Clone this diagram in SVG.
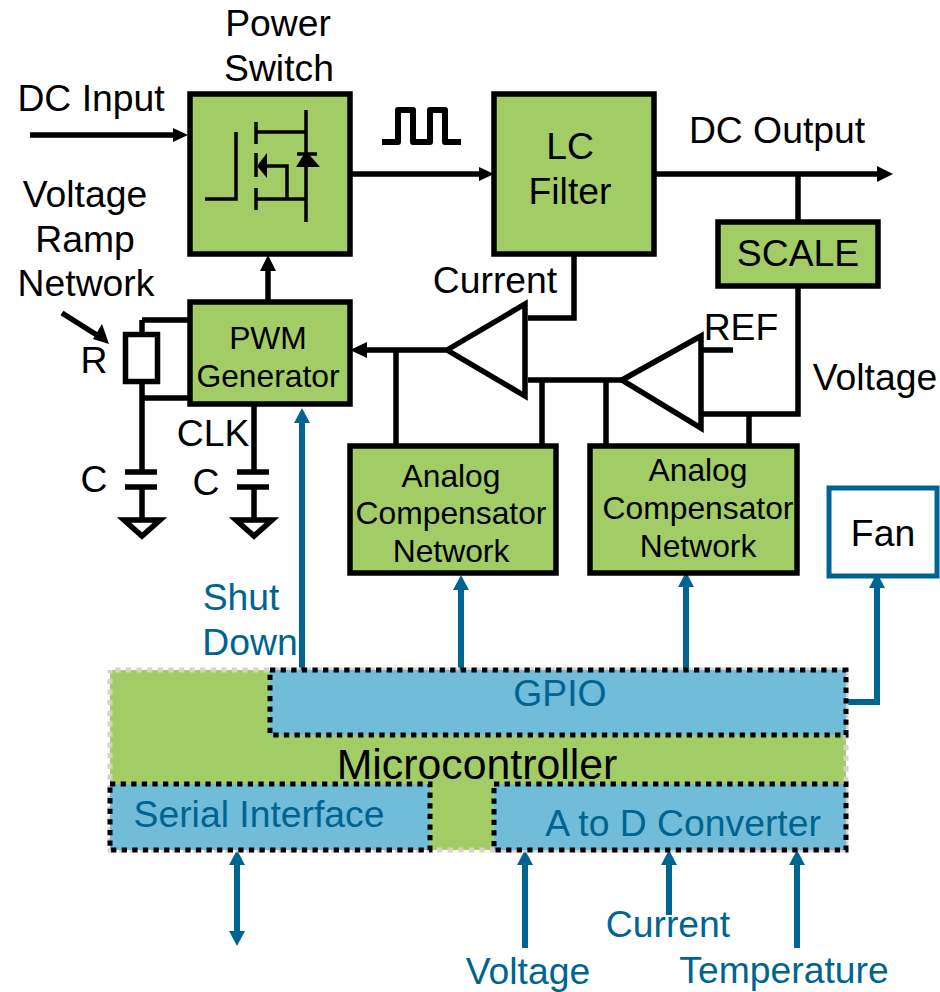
<svg xmlns="http://www.w3.org/2000/svg" width="940" height="992" viewBox="0 0 940 992">
<style>
text{font-family:"Liberation Sans",Arial,sans-serif;font-size:37.3px;fill:#000;text-anchor:middle}
text.s{font-size:31.8px}
text.l{fill:#006491}
.b{fill:#a2cc66;stroke:#000;stroke-width:5.5}
.k{fill:none;stroke:#000;stroke-width:5.5}
.t{fill:none;stroke:#000;stroke-width:3.5}
.u{fill:none;stroke:#006491;stroke-width:6}
.f{fill:#000;stroke:none}
.ua{fill:#006491;stroke:none}
.blue{fill:#71bcd8;stroke:#000;stroke-width:5;stroke-dasharray:5.3 5.3}
</style>
<rect width="940" height="992" fill="#fff"/>
<g id="connectors">
<path class="k" d="M30 135H176M352 174H482M655 174H880M798 174V222M798 288V414H702M749 414V446M268 300V266M142 320H190M142 320V340M142 382V472M142 398H190M142 487V518M254 406V472M254 487V518M396 350H366M446 350H396M396 350V446M574 256V318H528M528 380H622M542 380V446M606 380V446M702 350H733"/>
<path class="k" d="M62 313L100 337"/>
<path class="f" d="M893 174L877 166V182ZM188 135L173 128V142ZM494 174L479 167V181ZM268 255L260 271H276ZM350 350L367 342V358ZM109 344L93 339L102 324Z"/>
<path class="u" d="M302 670V420M461 670V590M686 670V585M847 702H877V585M237 856V935M525 856V948M669 856V915M797 856V948"/>
<path class="ua" d="M302 408L294 423H310ZM461 575L453 590H469ZM686 572L678 587H694ZM877 573L869 588H885ZM237 850L229 865H245ZM237 946L229 931H245ZM525 850L517 865H533ZM669 850L661 865H677ZM797 850L789 865H805Z"/>
<path d="M382 142H398V110H413V142H430V110H445V142H461" fill="none" stroke="#000" stroke-width="6" stroke-linejoin="round"/>
</g>
<g id="power-switch">
<rect class="b" x="190" y="94" width="160" height="160"/>
<path class="t" d="M205 199H236V132M256 122V144M256 153V177M256 188V210M256 132H306M306 110V222M256 199H306M287 199V166H262"/>
<path class="f" d="M257 166L267 153V178ZM296 167L306 151L320 167Z"/>
<path class="t" d="M297 154H317"/>
</g>
<g id="lc-filter"><rect class="b" x="494" y="94" width="160" height="160"/><text x="570" y="159">LC</text><text x="570" y="204">Filter</text></g>
<g id="scale"><rect class="b" x="718" y="222" width="160" height="64"/><text x="798" y="266">SCALE</text></g>
<g id="pwm"><rect class="b" x="190" y="302" width="160" height="102"/><text class="s" x="268" y="349">PWM</text><text class="s" x="268" y="387">Generator</text></g>
<g id="resistor"><rect x="125.500" y="334.500" width="32" height="47" fill="#fff" stroke="#000" stroke-width="5.500"/></g>
<g id="caps">
<path class="k" d="M125 472H157M125 487H157M237 472H269M237 487H269"/>
<path class="k" d="M124 520H160L142 536ZM236 520H272L254 536Z" fill="#fff"/>
</g>
<g id="amp1"><path class="k" d="M447 350L525 304V396Z" fill="#fff"/></g>
<g id="amp2"><path class="k" d="M622 380L701 336V428Z" fill="#fff"/></g>
<g id="comp1"><rect class="b" x="350" y="446" width="206" height="127"/><text class="s" x="451" y="487">Analog</text><text class="s" x="451" y="524">Compensator</text><text class="s" x="451" y="562">Network</text></g>
<g id="comp2"><rect class="b" x="590" y="446" width="207" height="127"/><text class="s" x="698" y="481">Analog</text><text class="s" x="698" y="519">Compensator</text><text class="s" x="698" y="557">Network</text></g>
<g id="fan"><rect x="829" y="488" width="108" height="88" fill="#fff" stroke="#006491" stroke-width="5"/><text x="883" y="546">Fan</text></g>
<g id="microcontroller">
<rect x="110" y="670" width="736" height="180" fill="#a2cc66" stroke="#d9d3c7" stroke-width="5" stroke-dasharray="5.300 5.300" stroke-dashoffset="5.300"/>
<text x="477" y="779" style="font-size:42.8px">Microcontroller</text>
</g>
<g id="gpio"><rect class="blue" x="270" y="670" width="576" height="65"/><text class="l" x="560" y="706">GPIO</text></g>
<g id="serial"><rect class="blue" x="110" y="784" width="320" height="66"/><text class="l" x="259" y="827">Serial Interface</text></g>
<g id="adc"><rect class="blue" x="494" y="784" width="352" height="66"/><text class="l" x="683" y="836">A to D Converter</text></g>
<g id="labels">
<text x="278" y="36">Power</text><text x="279" y="81">Switch</text>
<text x="91" y="111">DC Input</text>
<text x="85" y="207">Voltage</text><text x="85" y="252">Ramp</text><text x="86" y="296">Network</text>
<text x="94" y="373">R</text>
<text x="94" y="492">C</text><text x="206" y="495">C</text>
<text x="213" y="446">CLK</text>
<text x="495" y="293">Current</text>
<text x="777" y="143">DC Output</text>
<text x="741" y="340">REF</text>
<text x="875" y="390">Voltage</text>
<text class="l" x="241" y="610">Shut</text><text class="l" x="250" y="655">Down</text>
<text class="l" x="668" y="937">Current</text><text class="l" x="528" y="984">Voltage</text><text class="l" x="784" y="983">Temperature</text>
</g>
</svg>
